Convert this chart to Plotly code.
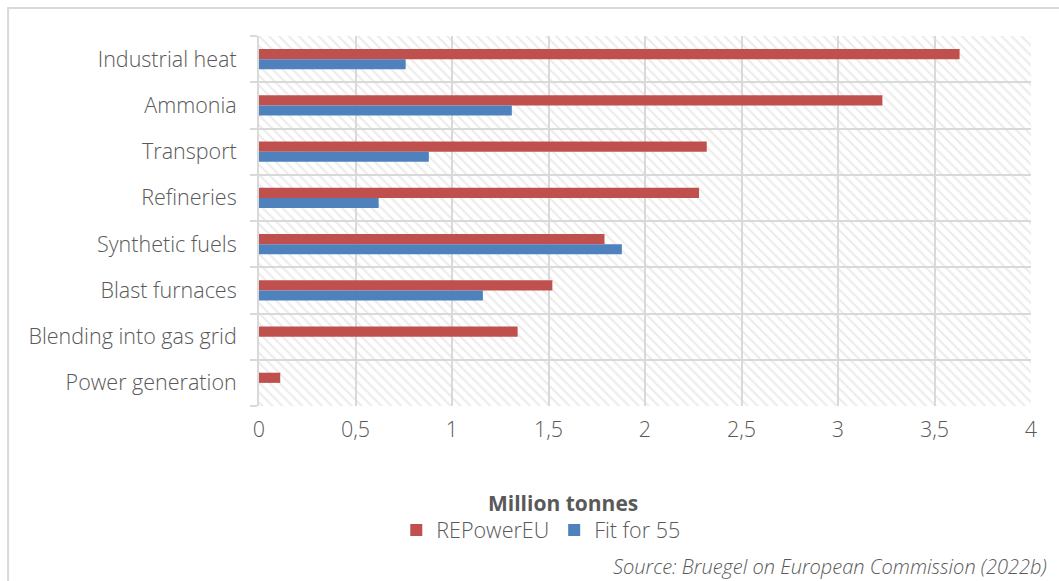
import plotly.graph_objects as go

categories = ["Industrial heat", "Ammonia", "Transport", "Refineries",
              "Synthetic fuels", "Blast furnaces", "Blending into gas grid",
              "Power generation"]
repower_eu = [3.63, 3.23, 2.32, 2.28, 1.79, 1.52, 1.34, 0.11]
fit_for_55 = [0.76, 1.31, 0.88, 0.62, 1.88, 1.16, 0, 0]
x_max = 4
x_ticks = [0, 0.5, 1, 1.5, 2, 2.5, 3, 3.5, 4]

RED = "#c0504d"
BLUE = "#4f81bd"
GRID = "#d9d9d9"
TXT = "#595959"
FONT = "Open Sans"
W = 300
FS = 21.5

n = len(categories)
pos = list(range(n))
bounds = [i - 0.5 for i in range(n + 1)]

fig = go.Figure()

# hatched plot-area background (decoration)
fig.add_trace(go.Bar(
    x=[x_max], y=[(n - 1) / 2], base=0, width=n, orientation="h",
    marker=dict(color="rgba(0,0,0,0)", line=dict(width=0),
                pattern=dict(shape="\\", fgcolor="#d8d8d8", bgcolor="rgba(0,0,0,0)",
                             size=7, solidity=0.3)),
    showlegend=False, hoverinfo="skip"))

fig.add_trace(go.Bar(
    x=repower_eu, y=pos, orientation="h", name="REPowerEU",
    marker=dict(color=RED, line=dict(width=0)), offset=-0.22, width=0.22))
fig.add_trace(go.Bar(
    x=fit_for_55, y=pos, orientation="h", name="Fit for 55",
    marker=dict(color=BLUE, line=dict(width=0)), offset=0.0, width=0.22))

fnt = dict(family=FONT, size=FS, color=TXT, weight=W)

fig.update_layout(
    width=1059, height=581,
    margin=dict(l=259, r=28, t=36, b=175),
    paper_bgcolor="white", plot_bgcolor="white",
    barmode="overlay",
    separators=", ",
    font=fnt,
    showlegend=True,
    legend=dict(orientation="h", x=0.365, xanchor="center", y=-0.335, yanchor="middle",
                font=fnt, itemwidth=30,
                traceorder="normal", bgcolor="rgba(0,0,0,0)"),
    xaxis=dict(range=[0, x_max], tickvals=x_ticks, showgrid=True, gridcolor=GRID,
               gridwidth=2, zeroline=False, showline=False, ticks="",
               tickfont=fnt, ticklabelstandoff=8),
    yaxis=dict(range=[n - 0.5, -0.5], tickvals=pos, ticktext=categories,
               showgrid=False, zeroline=False, showline=True, linecolor=GRID,
               linewidth=2, ticks="", ticklabelstandoff=16,
               tickfont=fnt,
               minor=dict(tickvals=bounds, showgrid=True, gridcolor=GRID, gridwidth=2,
                          ticks="outside", ticklen=7, tickcolor=GRID, tickwidth=2)),
    annotations=[
        dict(text="<b>Million tonnes</b>", xref="paper", yref="paper",
             x=0.394, y=-0.262, xanchor="center", yanchor="middle", showarrow=False,
             font=dict(family=FONT, size=21, color=TXT)),
        dict(text="<i>Source: Bruegel on European Commission (2022b)</i>",
             xref="paper", yref="paper", x=1.0233, y=-0.435, xanchor="right",
             yanchor="middle", showarrow=False,
             font=dict(family=FONT, size=20, color=TXT, weight=W)),
    ],
    shapes=[dict(type="rect", xref="paper", yref="paper", x0=-0.325, x1=1.06,
                 y0=-0.55, y1=1.0757, line=dict(color=GRID, width=2), layer="below")],
)

fig.write_html("out.html")
